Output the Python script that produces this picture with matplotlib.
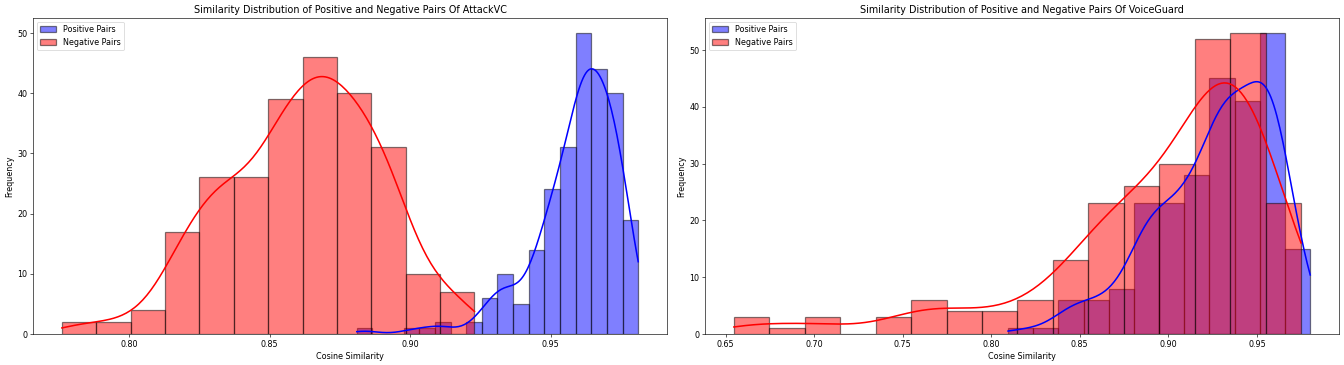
import numpy as np
import matplotlib
matplotlib.use("Agg")
import matplotlib.pyplot as plt

plt.rcParams["font.size"] = 10.3

# ---- data ----
# AttackVC
attack_pos_range = (0.8810, 0.9812)
attack_pos_counts = [1, 0, 0, 1, 1, 2, 0, 2, 6, 10, 5, 14, 24, 31, 50, 44, 40, 19]
attack_neg_range = (0.7760, 0.9229)
attack_neg_counts = [2, 2, 4, 17, 26, 26, 39, 46, 40, 31, 10, 7]

# VoiceGuard
voice_pos_range = (0.8095, 0.9801)
voice_pos_counts = [1, 1, 6, 6, 8, 23, 23, 28, 45, 41, 53, 15]
voice_neg_range = (0.6547, 0.9749)
voice_neg_counts = [3, 1, 3, 0, 3, 6, 4, 4, 6, 13, 23, 26, 30, 52, 53, 23]

titles = ["Similarity Distribution of Positive and Negative Pairs Of AttackVC",
          "Similarity Distribution of Positive and Negative Pairs Of VoiceGuard"]
labels = ["Positive Pairs", "Negative Pairs"]
xlabel = "Cosine Similarity"
ylabel = "Frequency"


def hist_kde(ax, rng, counts, color, label):
    counts = np.asarray(counts, dtype=float)
    edges = np.linspace(rng[0], rng[1], len(counts) + 1)
    centers = 0.5 * (edges[:-1] + edges[1:])
    ax.hist(centers, bins=edges, weights=counts, color=color, alpha=0.5,
            edgecolor="black", linewidth=1.6, label=label)
    # Gaussian KDE (Scott's rule) from the binned values, scaled to counts
    n = counts.sum()
    mean = np.sum(centers * counts) / n
    std = np.sqrt(np.sum(counts * (centers - mean) ** 2) / (n - 1))
    bw = std * n ** (-1 / 5)
    grid = np.linspace(rng[0], rng[1], 200)
    dens = np.sum(counts[None, :] * np.exp(-0.5 * ((grid[:, None] - centers[None, :]) / bw) ** 2),
                  axis=1) / (n * bw * np.sqrt(2 * np.pi))
    binw = edges[1] - edges[0]
    ax.plot(grid, dens * n * binw, color=color, linewidth=2.0)


fig, axes = plt.subplots(1, 2, figsize=(24, 6.52), dpi=56)

datasets = [
    (attack_pos_range, attack_pos_counts, attack_neg_range, attack_neg_counts),
    (voice_pos_range, voice_pos_counts, voice_neg_range, voice_neg_counts),
]

for ax, (pr, pc, nr, nc), title in zip(axes, datasets, titles):
    hist_kde(ax, pr, pc, "blue", labels[0])
    hist_kde(ax, nr, nc, "red", labels[1])
    ax.set_title(title)
    ax.set_xlabel(xlabel)
    ax.set_ylabel(ylabel)
    ax.legend(loc="upper left")

fig.subplots_adjust(left=0.0246, right=0.9963, bottom=0.085, top=0.9507, wspace=0.06)
fig.savefig("out.png", dpi=56)
